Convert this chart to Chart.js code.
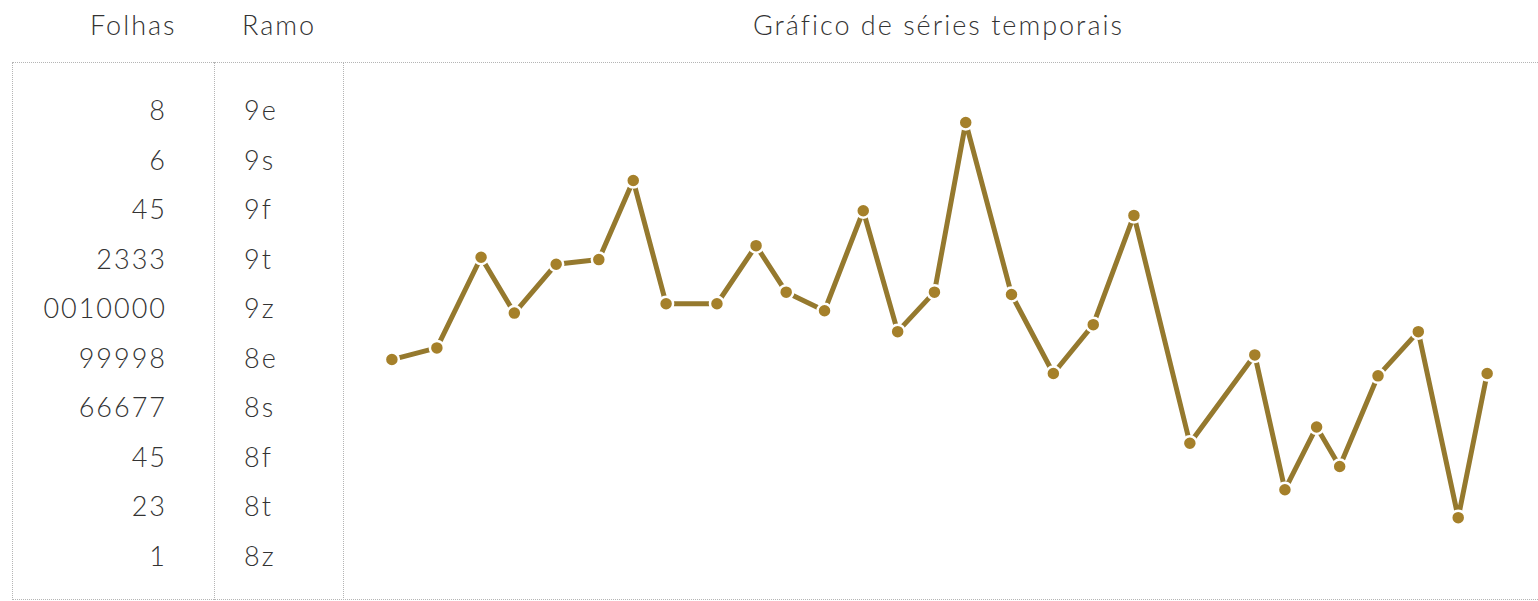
<!DOCTYPE html>
<html>
<head>
<meta charset="utf-8">
<script src="https://cdn.jsdelivr.net/npm/chart.js"></script>
<style>
  body { margin: 0; background: #fff; font-family: Lato, "Open Sans", sans-serif; font-weight: 300; color: #333; }
  #page { position: relative; width: 1538px; height: 601px; overflow: hidden; }
  .head { position: absolute; top: 8px; font-size: 27px; line-height: 34px; letter-spacing: 2px; white-space: nowrap; }
  .box { position: absolute; border: 1px dotted #b5b5b5; box-sizing: border-box; }
  .cell { position: absolute; font-size: 27px; line-height: 30px; letter-spacing: 2px; white-space: nowrap; }
  #chartWrap { position: absolute; left: 343px; top: 62px; width: 1195px; height: 537px; }
</style>
</head>
<body>
<div id="page">
  <div class="head" style="left:90px">Folhas</div>
  <div class="head" style="left:242px">Ramo</div>
  <div class="head" style="left:753px">Gráfico de séries temporais</div>

  <div class="box" style="left:12px; top:62px; width:1540px; height:538px"></div>
  <div class="box" style="left:214px; top:62px; width:130px; height:538px; border-top:none; border-bottom:none"></div>

  <div id="rows"></div>
  <div id="chartWrap"><canvas id="myChart"></canvas></div>
</div>

<script>
// stem-and-leaf
var leaves = ['8', '6', '45', '2333', '0010000', '99998', '66677', '45', '23', '1'];
var stems = ['9e', '9s', '9f', '9t', '9z', '8e', '8s', '8f', '8t', '8z'];

// time series (time position, value)
var times = [1.00, 2.15, 3.28, 4.13, 5.20, 6.29, 7.17, 8.01, 9.31, 10.31,
             11.08, 12.06, 13.05, 13.93, 14.87, 15.67, 16.84, 17.91, 18.93, 19.97,
             21.40, 23.06, 23.83, 24.64, 25.23, 26.21, 27.24, 28.26, 29.00];
var values = [87.8, 88.3, 92.2, 89.8, 91.9, 92.1, 95.5, 90.2, 90.2, 92.7,
              90.7, 89.9, 94.2, 89.0, 90.7, 98.0, 90.6, 87.2, 89.3, 94.0,
              84.2, 88.0, 82.2, 84.9, 83.2, 87.1, 89.0, 81.0, 87.2];

var rows = document.getElementById('rows');
for (var i = 0; i < leaves.length; i++) {
  var rowTop = 110 + i * 49.5 - 15;
  var l = document.createElement('div');
  l.className = 'cell';
  l.style.top = rowTop + 'px';
  l.style.right = (1538 - 167) + 'px';
  l.textContent = leaves[i];
  rows.appendChild(l);
  var s = document.createElement('div');
  s.className = 'cell';
  s.style.top = rowTop + 'px';
  s.style.left = '244px';
  s.textContent = stems[i];
  rows.appendChild(s);
}

var points = [];
for (var j = 0; j < times.length; j++) {
  points.push({ x: times[j], y: values[j] });
}

var ctx = document.getElementById('myChart').getContext('2d');
var myChart = new Chart(ctx, {
  type: 'line',
  data: {
    datasets: [{
      label: 'Série',
      data: points,
      borderColor: '#95792e',
      borderWidth: 5,
      borderJoinStyle: 'round',
      backgroundColor: '#a5802a',
      pointRadius: 7,
      pointBorderColor: '#fff',
      pointBorderWidth: 2.5,
      tension: 0,
      clip: false
    }]
  },
  options: {
    responsive: true,
    maintainAspectRatio: false,
    animation: false,
    layout: { padding: 0, autoPadding: false },
    scales: {
      x: { type: 'linear', min: -0.25, max: 30.3, display: false },
      y: { min: 77.5, max: 100.6, display: false }
    },
    plugins: {
      legend: { display: false },
      tooltip: { enabled: false }
    }
  }
});
</script>
</body>
</html>
